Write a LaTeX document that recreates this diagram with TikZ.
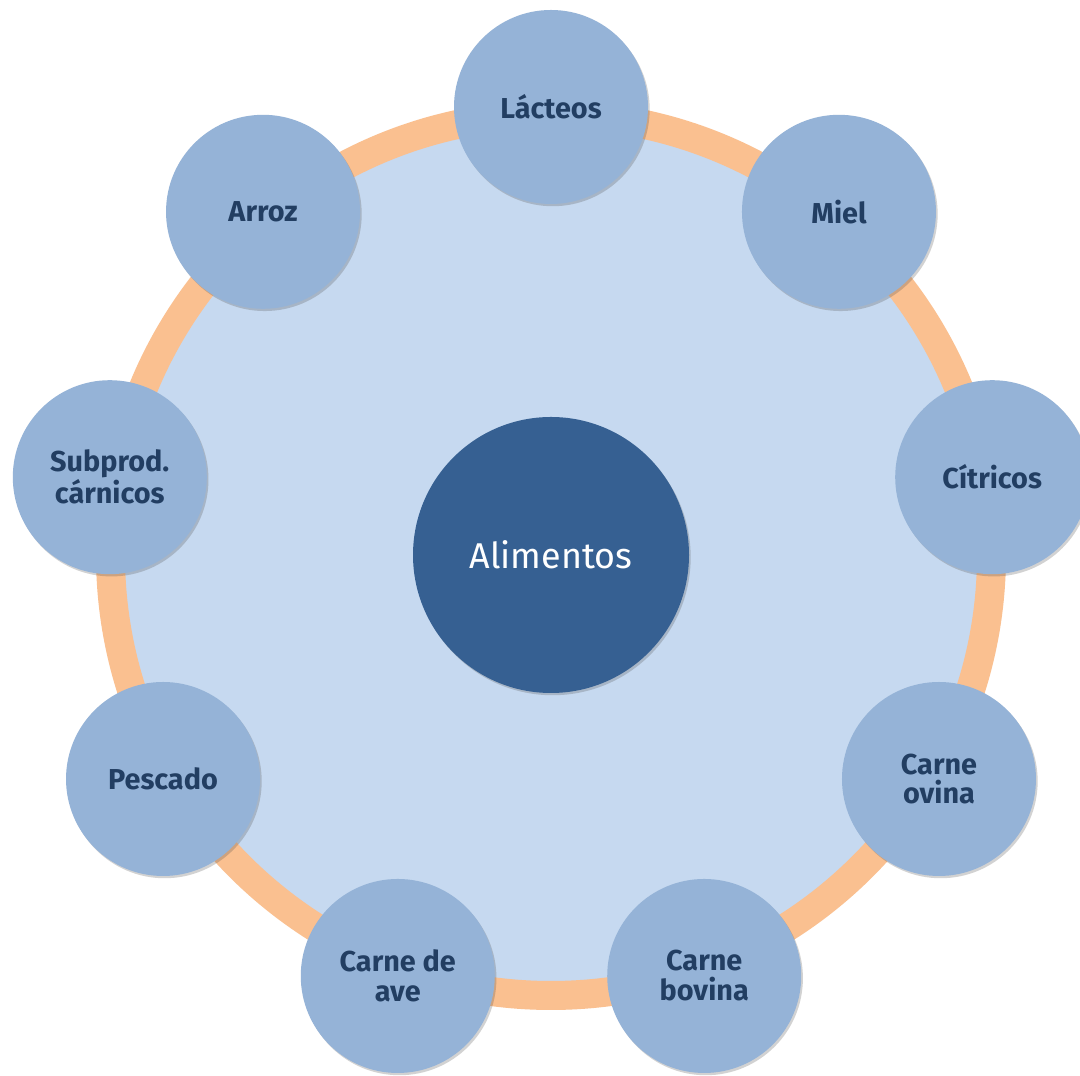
\documentclass[tikz,border=0pt]{standalone}
\usepackage{fontspec}
\setmainfont{Fira Sans}
\usetikzlibrary{shadows,calc}
\definecolor{ringc}{HTML}{FAC090}
\definecolor{innerc}{HTML}{C6D9F0}
\definecolor{satc}{HTML}{95B3D7}
\definecolor{hubc}{HTML}{366092}
\definecolor{txtc}{HTML}{223E62}
\tikzset{
  sat/.style={circle, fill=satc, minimum size=194*0.025cm, inner sep=0pt, align=center,
    text=txtc, font=\fontsize{20.5}{21.3}\selectfont\bfseries,
    drop shadow={shadow xshift=1.2pt, shadow yshift=-1.6pt, opacity=0.25, fill=black!70}},
  hub/.style={circle, fill=hubc, minimum size=276*0.025cm, inner sep=0pt,
    text=white, font=\fontsize{25.5}{28}\selectfont,
    drop shadow={shadow xshift=1.2pt, shadow yshift=-1.6pt, opacity=0.25, fill=black!70}},
  ringst/.style={draw=ringc, fill=innerc, line width=29*0.025cm}
}
\begin{document}
\begin{tikzpicture}[x=0.025cm,y=0.025cm]
\useasboundingbox (0,0) rectangle (1080,1076);
\fill[white] (0,0) rectangle (1080,1076);
\coordinate (c) at (551,521);
\draw[ringst] (c) circle[radius=440.5];
\node[hub] (hub) at (c) {Alimentos};
\node[sat] (s0) at ($(c)+(90:448)$) {Lácteos};
\node[sat] (s1) at ($(c)+(50:448)$) {Miel};
\node[sat] (s2) at ($(c)+(10:448)$) {Cítricos};
\node[sat] (s3) at ($(c)+(-30:448)$) {Carne\\ovina};
\node[sat] (s4) at ($(c)+(-70:448)$) {Carne\\bovina};
\node[sat] (s5) at ($(c)+(-110:448)$) {Carne de\\ave};
\node[sat] (s6) at ($(c)+(-150:448)$) {Pescado};
\node[sat] (s7) at ($(c)+(170:448)$) {Subprod.\\cárnicos};
\node[sat] (s8) at ($(c)+(130:448)$) {Arroz};
\end{tikzpicture}
\end{document}
